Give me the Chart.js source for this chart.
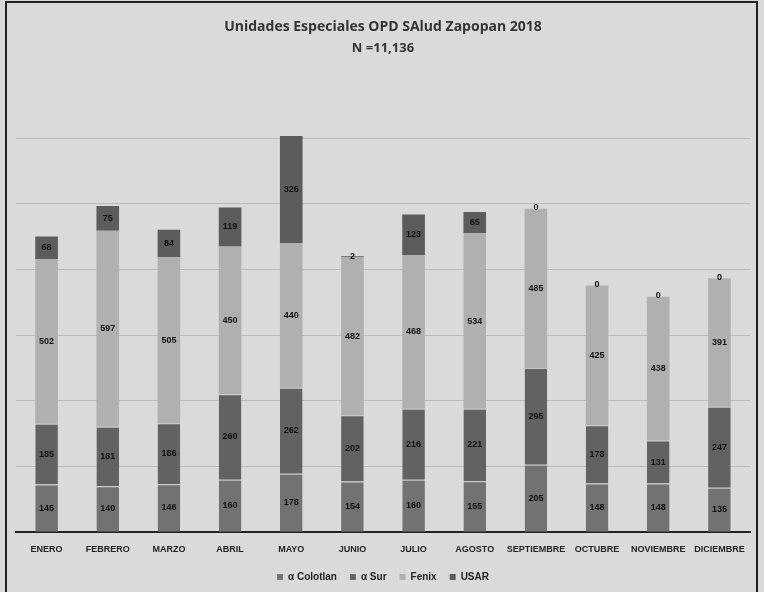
<!DOCTYPE html>
<html>
<head>
<meta charset="utf-8">
<script src="https://cdn.jsdelivr.net/npm/chart.js@4.4.1/dist/chart.umd.min.js"></script>
<style>
html,body{margin:0;padding:0;background:#d9d9d9;}
#wrap{width:764px;height:592px;position:relative;}
</style>
</head>
<body>
<div id="wrap"><canvas id="c" width="764" height="592"></canvas></div>
<script>
const categories = ["ENERO","FEBRERO","MARZO","ABRIL","MAYO","JUNIO","JULIO","AGOSTO","SEPTIEMBRE","OCTUBRE","NOVIEMBRE","DICIEMBRE"];
const colotlan = [145,140,146,160,178,154,160,155,205,148,148,135];
const sur      = [185,181,186,260,262,202,216,221,295,178,131,247];
const fenix    = [502,597,505,450,440,482,468,534,485,425,438,391];
const usar     = [68,75,84,119,326,2,123,65,0,0,0,0];
const seriesNames = ["\u03b1 Colotlan","\u03b1 Sur","Fenix","USAR"];
const titleText = "Unidades Especiales OPD SAlud Zapopan 2018";
const subtitleText = "N =11,136";

const bgPlugin = {
  id:'bg',
  beforeDraw(chart){
    const ctx = chart.ctx;
    ctx.save();
    ctx.fillStyle = '#dadada';
    ctx.fillRect(0,0,chart.width,chart.height);
    ctx.strokeStyle = '#222';
    ctx.lineWidth = 2;
    ctx.strokeRect(6,2,751,600);
    ctx.restore();
  }
};
const labelPlugin = {
  id:'labels',
  afterDatasetsDraw(chart){
    const ctx = chart.ctx;
    ctx.save();
    ctx.font = 'bold 9px "Liberation Sans Narrow", "Liberation Sans", sans-serif';
    ctx.fillStyle = '#111';
    ctx.textAlign = 'center';
    ctx.textBaseline = 'middle';
    chart.data.datasets.forEach((ds, i) => {
      const meta = chart.getDatasetMeta(i);
      meta.data.forEach((bar, j) => {
        const v = ds.data[j];
        const y = (bar.y + bar.base) / 2;
        ctx.fillText(String(v), bar.x, v === 0 ? bar.y - 1 : y);
      });
    });
    ctx.restore();
  }
};

const segBorder = {top:1,bottom:0,left:0,right:0};
new Chart(document.getElementById('c'), {
  type:'bar',
  data:{
    labels: categories,
    datasets:[
      {label: seriesNames[0], data: colotlan, backgroundColor:'#727272', borderColor:'#c4c4c4', borderWidth:segBorder},
      {label: seriesNames[1], data: sur, backgroundColor:'#626262', borderColor:'#c4c4c4', borderWidth:segBorder},
      {label: seriesNames[2], data: fenix, backgroundColor:'#b0b0b0', borderColor:'#c4c4c4', borderWidth:0},
      {label: seriesNames[3], data: usar, backgroundColor:'#5c5c5c', borderWidth:0}
    ]
  },
  options:{
    responsive:false,
    animation:false,
    devicePixelRatio:1,
    layout:{padding:{left:16,right:14,top:11,bottom:0}},
    datasets:{bar:{barPercentage:0.37,categoryPercentage:1.0,borderSkipped:false}},
    scales:{
      x:{stacked:true,
         grid:{display:false},
         border:{display:true,color:'#222',width:2},
         ticks:{color:'#222',font:{family:'"Liberation Sans Narrow", "Liberation Sans", sans-serif',size:9,weight:'bold'},maxRotation:0,autoSkip:false,padding:4}},
      y:{stacked:true,min:0,max:1400,
         ticks:{display:false,stepSize:200},
         border:{display:false},
         grid:{color:(c)=> c.tick && c.tick.value===1400 ? 'rgba(0,0,0,0)' : 'rgba(130,130,130,0.35)',drawTicks:false,lineWidth:1}}
    },
    plugins:{
      title:{display:true,text:titleText,color:'#333',font:{family:'"Open Sans", sans-serif',size:14,weight:'bold'},padding:{top:8,bottom:3}},
      subtitle:{display:true,text:subtitleText,color:'#333',font:{family:'"Open Sans", sans-serif',size:13,weight:'bold'},padding:{top:2,bottom:16}},
      legend:{position:'bottom',labels:{boxWidth:6,boxHeight:6,color:'#222',font:{family:'"Liberation Sans Narrow", "Liberation Sans", sans-serif',size:10,weight:'bold'},padding:13}},
      tooltip:{enabled:false}
    }
  },
  plugins:[bgPlugin,labelPlugin]
});
</script>
</body>
</html>
